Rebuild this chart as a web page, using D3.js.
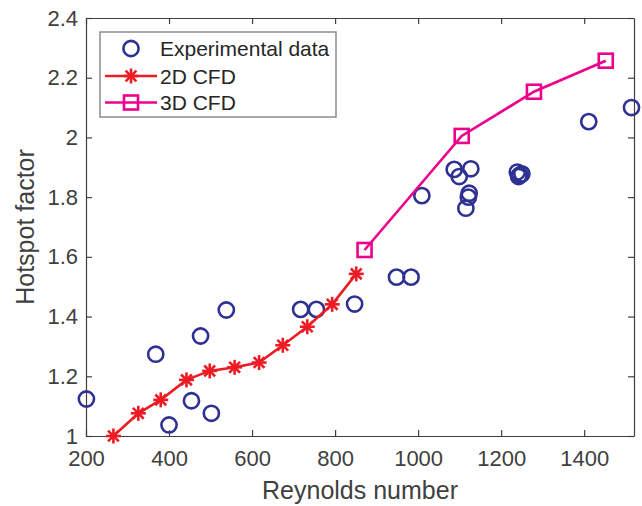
<!DOCTYPE html>
<html>
<head>
<meta charset="utf-8">
<script src="https://cdn.jsdelivr.net/npm/d3@7/dist/d3.min.js"></script>
<style>
  html, body { margin: 0; padding: 0; background: #ffffff; }
  svg { display: block; font-family: "Liberation Sans", Arial, sans-serif; }
</style>
</head>
<body>
<svg id="chart" width="642" height="506"></svg>
<script>
// Experimental measurements
const expRe = [201, 368, 400, 454, 476, 502, 538, 717, 755, 847, 948, 983, 1009,
               1087, 1099, 1127, 1123, 1121, 1115, 1239, 1245, 1250, 1242, 1411, 1514];
const expHf = [1.124, 1.274, 1.037, 1.118, 1.335, 1.076, 1.422, 1.424, 1.424, 1.442, 1.532, 1.532, 1.805,
               1.893, 1.869, 1.895, 1.813, 1.800, 1.763, 1.884, 1.874, 1.878, 1.869, 2.053, 2.100];

// 2D CFD results
const cfd2Re = [266, 326, 380, 442, 498, 558, 617, 674, 733, 793, 851];
const cfd2Hf = [1.000, 1.076, 1.121, 1.188, 1.218, 1.230, 1.246, 1.304, 1.366, 1.441, 1.543];

// 3D CFD results
const cfd3Re = [871, 1105, 1279, 1452];
const cfd3Hf = [1.623, 2.005, 2.153, 2.257];

// Axis ticks
const xTicks = [200, 400, 600, 800, 1000, 1200, 1400];
const yTicks = [1, 1.2, 1.4, 1.6, 1.8, 2, 2.2, 2.4];
const yTickLabels = ["1", "1.2", "1.4", "1.6", "1.8", "2", "2.2", "2.4"];

const seriesNames = ["Experimental data", "2D CFD", "3D CFD"];

const colExp = "#2e3192", col2D = "#ed1c24", col3D = "#ec008c";
const axisCol = "#404040";
const tickFont = 22, titleFont = 25, legendFont = 21;

const svg = d3.select("#chart");
const L = 86, R = 634, T = 18, B = 436;

const x = d3.scaleLinear().domain([200, 1520]).range([L, R]);
const y = d3.scaleLinear().domain([1, 2.4]).range([B, T]);

const tickLen = 6;

// Axes (bottom + left with labels, top + right mirrored ticks)
const gx = svg.append("g").attr("transform", `translate(0,${B})`)
  .call(d3.axisBottom(x).tickValues(xTicks).tickSizeInner(-tickLen).tickSizeOuter(0).tickPadding(14).tickFormat(d3.format("d")));
const gy = svg.append("g").attr("transform", `translate(${L},0)`)
  .call(d3.axisLeft(y).tickValues(yTicks).tickSizeInner(-tickLen).tickSizeOuter(0).tickPadding(8)
    .tickFormat((d, i) => yTickLabels[i]));
const gxt = svg.append("g").attr("transform", `translate(0,${T})`)
  .call(d3.axisTop(x).tickValues(xTicks).tickSizeInner(-tickLen).tickSizeOuter(0).tickFormat(""));
const gyr = svg.append("g").attr("transform", `translate(${R},0)`)
  .call(d3.axisRight(y).tickValues(yTicks).tickSizeInner(-tickLen).tickSizeOuter(0).tickFormat(""));

[gx, gy, gxt, gyr].forEach(g => {
  g.selectAll("path.domain").attr("stroke", axisCol).attr("stroke-width", 1.2);
  g.selectAll(".tick line").attr("stroke", axisCol).attr("stroke-width", 1.2);
  g.selectAll(".tick text").attr("fill", axisCol).style("font-size", tickFont + "px")
    .style("font-family", "'Liberation Sans', Arial, sans-serif");
});
gx.selectAll(".tick text").attr("dy", "0.71em");

// Axis titles
svg.append("text").attr("x", (L + R) / 2).attr("y", 499).attr("text-anchor", "middle")
  .attr("fill", axisCol).style("font-size", titleFont + "px").text("Reynolds number");
svg.append("text").attr("transform", `translate(34,${(T + B) / 2}) rotate(-90)`)
  .attr("text-anchor", "middle").attr("fill", axisCol).style("font-size", titleFont + "px").text("Hotspot factor");

// Marker shapes
function star(g, cx, cy, color) {
  const s = 7.5, d = s * 0.72;
  const segs = [[-s, 0, s, 0], [0, -s, 0, s], [-d, -d, d, d], [-d, d, d, -d]];
  segs.forEach(([x1, y1, x2, y2]) => g.append("line")
    .attr("x1", cx + x1).attr("y1", cy + y1).attr("x2", cx + x2).attr("y2", cy + y2)
    .attr("stroke", color).attr("stroke-width", 2.6).attr("stroke-linecap", "butt"));
}
function square(g, cx, cy, color) {
  g.append("rect").attr("x", cx - 7).attr("y", cy - 7).attr("width", 14).attr("height", 14)
    .attr("fill", "none").attr("stroke", color).attr("stroke-width", 2.6);
}
function circle(g, cx, cy, color) {
  g.append("circle").attr("cx", cx).attr("cy", cy).attr("r", 7.6)
    .attr("fill", "none").attr("stroke", color).attr("stroke-width", 2.6);
}

const plot = svg.append("g");
const line = d3.line();

// Experimental circles
const expG = plot.append("g");
expRe.forEach((r, i) => circle(expG, x(r), y(expHf[i]), colExp));

// 2D CFD line + stars
plot.append("path").attr("d", line(cfd2Re.map((r, i) => [x(r), y(cfd2Hf[i])])))
  .attr("fill", "none").attr("stroke", col2D).attr("stroke-width", 2.6);
const g2 = plot.append("g");
cfd2Re.forEach((r, i) => star(g2, x(r), y(cfd2Hf[i]), col2D));

// 3D CFD line + squares
plot.append("path").attr("d", line(cfd3Re.map((r, i) => [x(r), y(cfd3Hf[i])])))
  .attr("fill", "none").attr("stroke", col3D).attr("stroke-width", 2.6);
const g3 = plot.append("g");
cfd3Re.forEach((r, i) => square(g3, x(r), y(cfd3Hf[i]), col3D));

// Legend
const lg = svg.append("g");
lg.append("rect").attr("x", 100).attr("y", 32).attr("width", 236).attr("height", 85)
  .attr("fill", "#ffffff").attr("stroke", "#8c8c8c").attr("stroke-width", 1.5);
const rowY = [48.5, 76, 102.5];
circle(lg, 131, rowY[0], colExp);
lg.append("line").attr("x1", 105).attr("x2", 157).attr("y1", rowY[1]).attr("y2", rowY[1])
  .attr("stroke", col2D).attr("stroke-width", 2.6);
star(lg, 131, rowY[1], col2D);
lg.append("line").attr("x1", 105).attr("x2", 157).attr("y1", rowY[2]).attr("y2", rowY[2])
  .attr("stroke", col3D).attr("stroke-width", 2.6);
square(lg, 131, rowY[2], col3D);
seriesNames.forEach((n, i) => lg.append("text").attr("x", 160).attr("y", rowY[i] + 7.5)
  .attr("fill", "#262626").style("font-size", legendFont + "px").text(n));
</script>
</body>
</html>
